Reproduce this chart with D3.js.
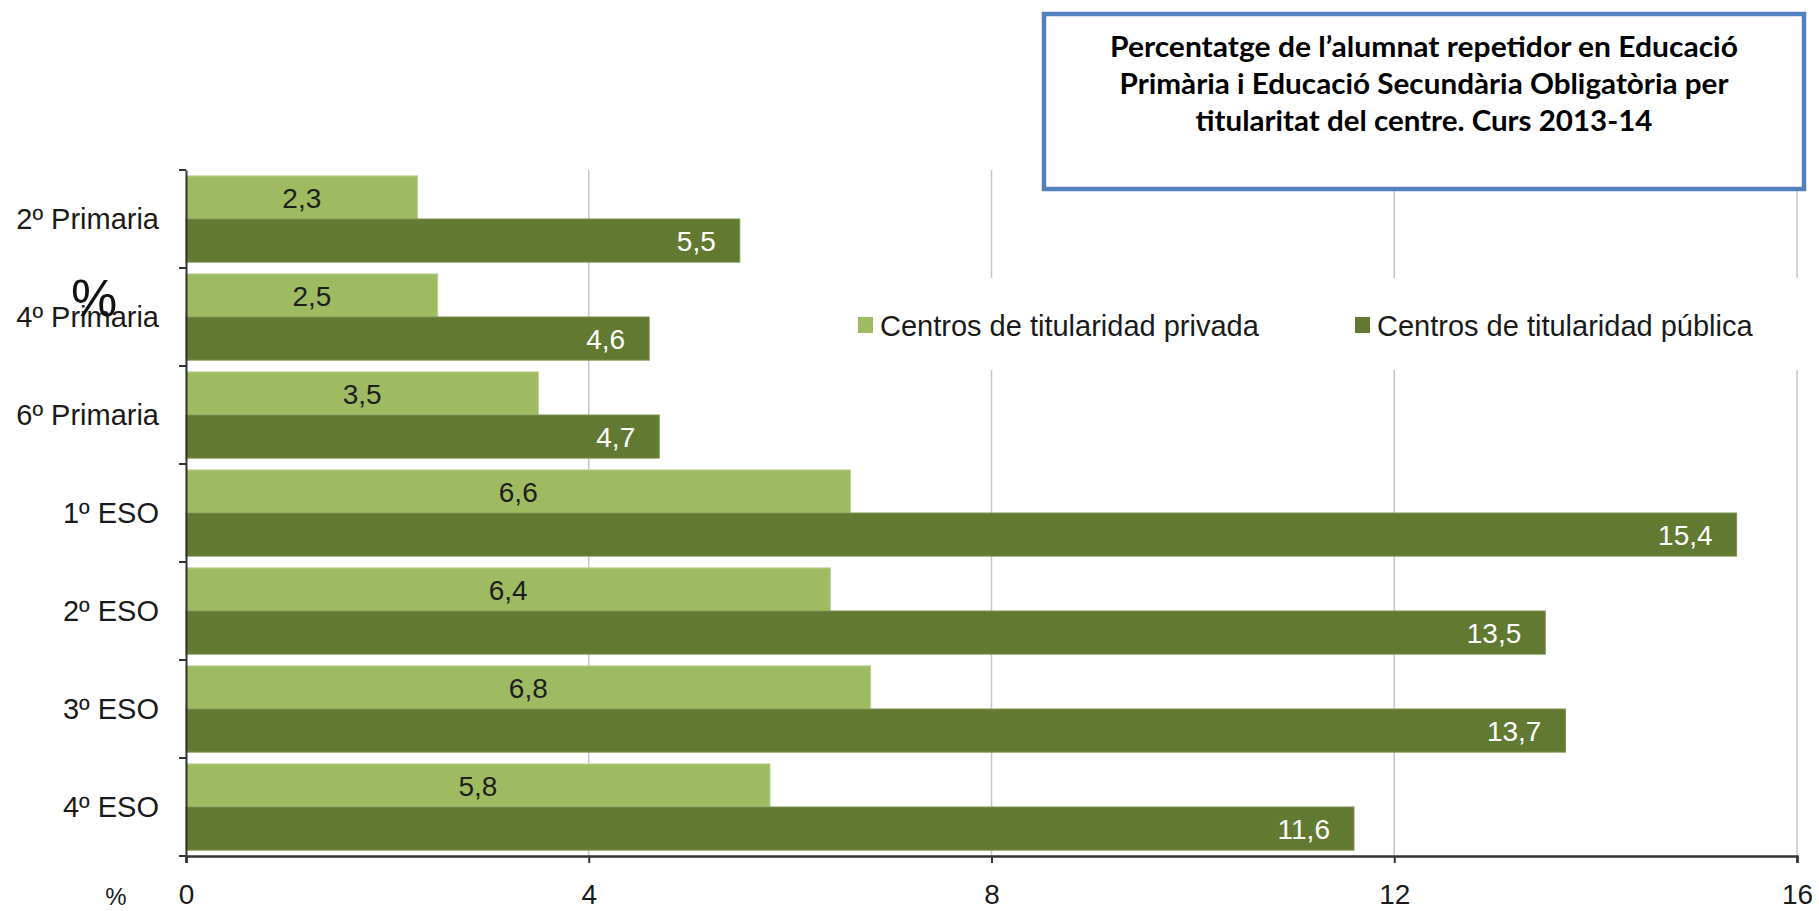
<!DOCTYPE html>
<html>
<head>
<meta charset="utf-8">
<script src="https://cdn.jsdelivr.net/npm/d3@7"></script>
<style>
  body { margin: 0; background: #fff; }
  text { font-family: "Liberation Sans", Arial, sans-serif; }
</style>
</head>
<body>
<div id="chart"></div>
<script>
const categories = ["2º Primaria", "4º Primaria", "6º Primaria", "1º ESO", "2º ESO", "3º ESO", "4º ESO"];
const privada = [2.3, 2.5, 3.5, 6.6, 6.4, 6.8, 5.8];
const publica = [5.5, 4.6, 4.7, 15.4, 13.5, 13.7, 11.6];
const seriesNames = ["Centros de titularidad privada", "Centros de titularidad pública"];
const seriesColors = ["#9fbb62", "#627932"];
const xTicks = [0, 4, 8, 12, 16];
const titleLines = [
  "Percentatge de l’alumnat repetidor en Educació",
  "Primària i Educació Secundària Obligatòria per",
  "titularitat del centre. Curs 2013-14"
];

const W = 1819, H = 911;
const plotLeft = 186, plotRight = 1797, plotTop = 170, plotBottom = 856;

const svg = d3.select("#chart").append("svg")
  .attr("width", W)
  .attr("height", H);

const x = d3.scaleLinear().domain([0, 16]).range([plotLeft, plotRight]);
const y = d3.scaleBand().domain(categories).range([plotTop, plotBottom]).paddingInner(0.12).paddingOuter(0.06);
const sub = d3.scaleBand().domain([0, 1]).range([0, y.bandwidth()]);

// gridlines
svg.append("g")
  .selectAll("line")
  .data(xTicks.filter(d => d > 0))
  .enter().append("line")
  .attr("x1", d => x(d)).attr("x2", d => x(d))
  .attr("y1", plotTop).attr("y2", plotBottom)
  .attr("stroke", "#c8c8c8")
  .attr("stroke-width", 1.5);

const rows = categories.map((c, i) => ({ c, v: [privada[i], publica[i]] }));

const groups = svg.append("g")
  .selectAll("g")
  .data(rows)
  .enter().append("g")
  .attr("transform", d => `translate(0,${y(d.c)})`);

groups.selectAll("rect")
  .data(d => d.v.map((v, k) => ({ v, k })))
  .enter().append("rect")
  .attr("x", x(0))
  .attr("y", d => sub(d.k))
  .attr("width", d => x(d.v) - x(0))
  .attr("height", sub.bandwidth())
  .attr("fill", d => seriesColors[d.k])
  .attr("stroke", d => d.k === 0 ? "#bfd196" : "#7d9150")
  .attr("stroke-width", 1);

groups.selectAll("text")
  .data(d => d.v.map((v, k) => ({ v, k })))
  .enter().append("text")
  .attr("x", d => d.k === 0 ? (x(0) + x(d.v)) / 2 : x(d.v) - 24)
  .attr("y", d => sub(d.k) + sub.bandwidth() / 2)
  .attr("dy", "0.36em")
  .attr("text-anchor", d => d.k === 0 ? "middle" : "end")
  .attr("font-size", 28)
  .attr("fill", d => d.k === 0 ? "#1e1e1e" : "#ffffff")
  .text(d => d3.format(".1f")(d.v).replace(".", ","));

// y axis
const yAxis = svg.append("g")
  .attr("transform", `translate(${plotLeft},0)`)
  .call(d3.axisLeft(y).tickSize(0).tickPadding(27));
yAxis.select(".domain").attr("stroke", "#333").attr("stroke-width", 2);
yAxis.selectAll("text").attr("font-size", 29).attr("fill", "#1a1a1a").attr("dy", "0.36em")
  .style("font-family", "'Liberation Sans', Arial, sans-serif");
yAxis.selectAll(".boundary")
  .data(d3.range(categories.length + 1))
  .enter().append("line")
  .attr("class", "boundary")
  .attr("x1", -7).attr("x2", 0)
  .attr("y1", i => plotTop + i * y.step()).attr("y2", i => plotTop + i * y.step())
  .attr("stroke", "#333").attr("stroke-width", 2);

// x axis
const xAxis = svg.append("g")
  .attr("transform", `translate(0,${plotBottom})`)
  .call(d3.axisBottom(x).tickValues(xTicks).tickSize(7).tickPadding(21).tickFormat(d3.format("d")));
xAxis.select(".domain").attr("stroke", "#333").attr("stroke-width", 2.5);
xAxis.selectAll(".tick line").attr("stroke", "#333").attr("stroke-width", 2);
xAxis.selectAll("text").attr("font-size", 28).attr("fill", "#1a1a1a")
  .style("font-family", "'Liberation Sans', Arial, sans-serif");

svg.append("text")
  .attr("x", 116).attr("y", 905)
  .attr("text-anchor", "middle")
  .attr("font-size", 24)
  .attr("fill", "#1a1a1a")
  .text("%");

// large percent sign
svg.append("text")
  .attr("x", 94).attr("y", 316)
  .attr("text-anchor", "middle")
  .attr("font-size", 52)
  .attr("fill", "#111")
  .text("%");

// legend
const legend = svg.append("g");
legend.append("rect")
  .attr("x", 841).attr("y", 278)
  .attr("width", 969).attr("height", 92)
  .attr("fill", "#fff");
const legendX = [858, 1355];
const items = legend.selectAll("g.item")
  .data(seriesNames)
  .enter().append("g")
  .attr("class", "item")
  .attr("transform", (d, i) => `translate(${legendX[i]},317)`);
items.append("rect")
  .attr("width", 15).attr("height", 16)
  .attr("fill", (d, i) => seriesColors[i]);
items.append("text")
  .attr("x", 22).attr("y", 19)
  .attr("font-size", 29)
  .attr("fill", "#1a1a1a")
  .text(d => d);

// title box
const tb = svg.append("g");
tb.append("rect")
  .attr("x", 1044).attr("y", 14)
  .attr("width", 760).attr("height", 175)
  .attr("fill", "#fff")
  .attr("stroke", "#5381c0")
  .attr("stroke-width", 4.5);
const titleWidths = [628, 609, 457];
tb.selectAll("text")
  .data(titleLines)
  .enter().append("text")
  .attr("x", 1424)
  .attr("y", (d, i) => 57 + i * 37)
  .attr("text-anchor", "middle")
  .attr("font-size", 28)
  .attr("font-weight", "bold")
  .attr("fill", "#000")
  .attr("textLength", (d, i) => titleWidths[i])
  .attr("lengthAdjust", "spacingAndGlyphs")
  .style("font-family", "Lato, 'Open Sans', sans-serif")
  .text(d => d);
</script>
</body>
</html>
